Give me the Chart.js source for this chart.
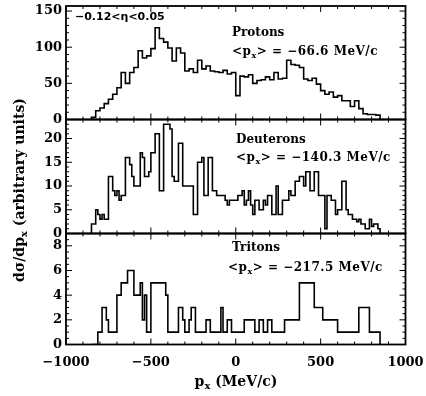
<!DOCTYPE html>
<html>
<head>
<meta charset="utf-8">
<script src="https://cdn.jsdelivr.net/npm/chart.js@4.4.1/dist/chart.umd.min.js"></script>
<style>
  html, body { margin: 0; padding: 0; background: #fff; }
  #wrap { position: relative; width: 426px; height: 396px; }
  #wrap canvas { position: absolute; left: 0; top: 0; }
</style>
</head>
<body>
<div id="wrap">
  <canvas id="protonChart" width="426" height="396"></canvas>
  <canvas id="deuteronChart" width="426" height="396"></canvas>
  <canvas id="tritonChart" width="426" height="396"></canvas>
</div>
<script>
// p_x spectra for -0.12 < eta < 0.05
const pxTicks = [-1000, -500, 0, 500, 1000];

const protonStart = -850;   // low edge of first bin (MeV/c)
const protonWidth = 25;     // bin width (MeV/c)
const protonCounts = [
  3, 12, 16, 22, 28, 35, 44, 65, 50, 65,
  72, 95, 85, 88, 98, 127, 112, 107, 99, 81,
  99, 92, 67, 70, 65, 82, 70, 74, 67, 66,
  65, 68, 63, 65, 33, 60, 59, 62, 50, 54,
  55, 59, 55, 65, 56, 57, 82, 76, 75, 72,
  56, 54, 57, 49, 40, 35, 38, 31, 33, 26,
  26, 18, 26, 15, 8, 7, 7, 6
];
const protonTicks = [0, 50, 100, 150];

const deuteronStart = -850;
const deuteronWidth = 12.5;
const deuteronCounts = [
  2, 2, 5, 4, 3, 4, 3, 3, 12, 12,
  9, 8, 9, 7, 8, 8, 16, 16, 14.5, 12,
  10, 10, 10, 17, 16, 12, 12, 13, 17, 17,
  21, 21, 9, 9, 23, 23, 23, 22, 12, 11,
  11, 19, 19, 10, 10, 10, 10, 10, 4, 4,
  15, 15, 16, 8, 8, 16, 16, 9, 9, 8,
  8, 8, 8, 7, 6, 7, 7, 7, 7, 8,
  8, 9, 6, 7, 9, 6, 4, 7, 7, 5,
  5, 7, 6, 8, 8, 4, 4, 10, 4, 4,
  7, 7, 7, 9, 8, 8, 11, 11, 12, 12,
  10, 13, 13, 9, 9, 13, 13, 8, 8, 8,
  1, 8, 8, 7, 7, 4, 5, 5, 11, 11,
  5, 4, 4, 3, 3, 2.5, 3, 2, 2, 1,
  1, 3, 1.5, 2, 2, 1
];
const deuteronTicks = [0, 5, 10, 15, 20];

const tritonStart = -850;
const tritonWidth = 12.5;
const tritonCounts = [
  0, 0, 0, 1, 1, 3, 3, 2, 1, 1,
  1, 1, 4, 4, 5, 5, 5, 6, 6, 6,
  4, 4, 4, 5, 2, 4, 1, 1, 5, 5,
  5, 5, 5, 5, 5, 4, 1, 1, 1, 1,
  1, 3, 3, 2, 1, 1, 2, 3, 3, 1,
  1, 1, 1, 1, 2, 2, 1, 1, 1, 1,
  1, 3, 1, 1, 2, 2, 1, 1, 1, 1,
  1, 1, 2, 2, 2, 2, 2, 1, 1, 2,
  2, 1, 1, 2, 2, 1, 1, 1, 1, 1,
  1, 2, 2, 2, 2, 2, 2, 2, 5, 5,
  5, 5, 5, 5, 5, 3, 3, 3, 3, 2,
  2, 2, 2, 2, 2, 2, 1, 1, 1, 1,
  1, 1, 1, 1, 1, 1, 3, 3, 3, 3,
  3, 1, 1, 1, 1, 1
];
const tritonTicks = [0, 2, 4, 6, 8];

const panelNames = ['Protons', 'Deuterons', 'Tritons'];
const meanPx = ['\u221266.6', '\u2212140.3', '\u2212217.5'];

Chart.defaults.font.family = '"DejaVu Serif"';
Chart.defaults.font.weight = 'bold';
Chart.defaults.font.size = 13;
Chart.defaults.color = '#000';

// bins -> step outline points (left edges), closed down to zero at both ends
function toPoints(start, width, counts) {
  const pts = [{x: start, y: 0}];
  counts.forEach((c, i) => pts.push({x: start + i * width, y: c}));
  pts.push({x: start + counts.length * width, y: 0});
  return pts;
}

// text with subscripts: parts = [[text, isSub], ...]
function richWidth(ctx, parts, size) {
  let w = 0;
  for (const [t, sub] of parts) {
    ctx.font = `bold ${sub ? Math.round(size * 0.7) : size}px "DejaVu Serif"`;
    w += ctx.measureText(t).width;
  }
  return w;
}
function drawRich(ctx, parts, x, y, size) {
  let cx = x;
  ctx.textAlign = 'left';
  ctx.textBaseline = 'middle';
  for (const [t, sub] of parts) {
    ctx.font = `bold ${sub ? Math.round(size * 0.7) : size}px "DejaVu Serif"`;
    ctx.fillText(t, cx, sub ? y + size * 0.3 : y);
    cx += ctx.measureText(t).width;
  }
}

const panelDecor = {
  id: 'panelDecor',
  afterDraw(chart, args, o) {
    const {ctx, chartArea: a} = chart;
    const xs = chart.scales.x, ys = chart.scales.y;
    ctx.save();
    ctx.strokeStyle = '#000';
    ctx.lineWidth = 1;
    ctx.beginPath();
    for (let v = -1000; v <= 1000; v += 100) {
      const px = xs.getPixelForValue(v);
      const len = v % 500 === 0 ? 6 : 3;
      ctx.moveTo(px, a.bottom); ctx.lineTo(px, a.bottom - len);
      ctx.moveTo(px, a.top); ctx.lineTo(px, a.top + len);
    }
    for (let k = 0; k * o.yMinor <= ys.max + 1e-9; k++) {
      const py = ys.getPixelForValue(k * o.yMinor);
      const len = k % o.perMajor === 0 ? 6 : 3;
      ctx.moveTo(a.left, py); ctx.lineTo(a.left + len, py);
      ctx.moveTo(a.right, py); ctx.lineTo(a.right - len, py);
    }
    ctx.stroke();
    ctx.lineWidth = 1.8;
    ctx.strokeRect(a.left, a.top, a.right - a.left, a.bottom - a.top);

    ctx.fillStyle = '#000';
    drawRich(ctx, [[o.name]], o.nameX, o.nameY, 12);
    ctx.letterSpacing = '0.5px';
    drawRich(ctx, [['<p'], ['x', true], ['> = ' + o.mean + ' MeV/c']], o.meanX, o.meanY, 12);
    ctx.restore();
  }
};

const etaLabel = {
  id: 'etaLabel',
  afterDraw(chart) {
    const ctx = chart.ctx;
    ctx.save();
    ctx.fillStyle = '#000';
    ctx.font = 'bold 11px "DejaVu Sans"';
    ctx.textBaseline = 'middle';
    ctx.fillText('\u22120.12<\u03b7<0.05', 75, 17);
    ctx.restore();
  }
};

const axisTitles = {
  id: 'axisTitles',
  afterDraw(chart) {
    const ctx = chart.ctx;
    ctx.save();
    ctx.fillStyle = '#000';
    const xt = [['p'], ['x', true], [' (MeV/c)']];
    drawRich(ctx, xt, 236 - richWidth(ctx, xt, 14) / 2, 382, 14);
    const yt = [['d\u03c3/dp'], ['x', true], [' (arbitrary units)']];
    ctx.translate(20, 190);
    ctx.rotate(-Math.PI / 2);
    drawRich(ctx, yt, -richWidth(ctx, yt, 14) / 2, 0, 14);
    ctx.restore();
  }
};

function createPanel(id, cfg) {
  return new Chart(document.getElementById(id), {
    type: 'line',
    data: {
      datasets: [{
        data: cfg.points,
        stepped: 'before',
        borderColor: '#000',
        borderWidth: 1.6,
        pointRadius: 0,
        fill: false
      }]
    },
    options: {
      responsive: false,
      animation: false,
      events: [],
      layout: {padding: {top: cfg.top, bottom: cfg.bottom, left: 0, right: 20.5}},
      plugins: {
        legend: {display: false},
        tooltip: {enabled: false},
        panelDecor: cfg.decor
      },
      scales: {
        x: {
          type: 'linear',
          min: -1000,
          max: 1000,
          display: cfg.showX,
          grid: {display: false, drawTicks: false},
          border: {display: false},
          ticks: {
            padding: 10,
            autoSkip: false,
            maxRotation: 0,
            callback: v => v < 0 ? '\u2212' + Math.abs(v) : String(v)
          },
          afterBuildTicks: s => { s.ticks = pxTicks.map(v => ({value: v})); },
          afterFit: s => {
            s.height = cfg.showX ? 30 : 0;
            s.paddingLeft = 0;
            s.paddingRight = 0;
          }
        },
        y: {
          type: 'linear',
          min: 0,
          max: cfg.yMax,
          grid: {display: false, drawTicks: false},
          border: {display: false},
          ticks: {padding: 4, autoSkip: false},
          afterBuildTicks: s => { s.ticks = cfg.yTicks.map(v => ({value: v})); },
          afterFit: s => {
            s.width = 66;
            s.paddingTop = 0;
            s.paddingBottom = 0;
          }
        }
      }
    },
    plugins: [panelDecor].concat(cfg.extra || [])
  });
}

createPanel('protonChart', {
  points: toPoints(protonStart, protonWidth, protonCounts),
  yMax: 157, yTicks: protonTicks,
  top: 6, bottom: 276.5, showX: false,
  decor: {yMinor: 10, perMajor: 5, name: panelNames[0], mean: meanPx[0],
          nameX: 232, nameY: 33, meanX: 232, meanY: 52},
  extra: [etaLabel]
});

createPanel('deuteronChart', {
  points: toPoints(deuteronStart, deuteronWidth, deuteronCounts),
  yMax: 24, yTicks: deuteronTicks,
  top: 119.5, bottom: 162.5, showX: false,
  decor: {yMinor: 1, perMajor: 5, name: panelNames[1], mean: meanPx[1],
          nameX: 236, nameY: 140, meanX: 236, meanY: 158}
});

createPanel('tritonChart', {
  points: toPoints(tritonStart, tritonWidth, tritonCounts),
  yMax: 9, yTicks: tritonTicks,
  top: 233.5, bottom: 21.5, showX: true,
  decor: {yMinor: 0.5, perMajor: 4, name: panelNames[2], mean: meanPx[2],
          nameX: 232, nameY: 248, meanX: 228, meanY: 268},
  extra: [axisTitles]
});
</script>
</body>
</html>
